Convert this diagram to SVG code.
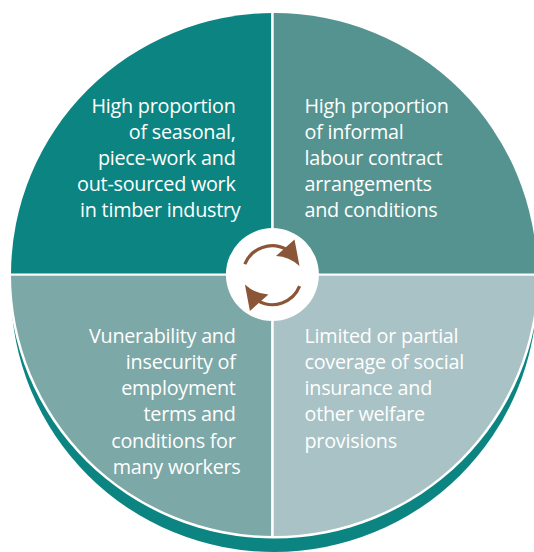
<svg xmlns="http://www.w3.org/2000/svg" width="534" height="552" viewBox="0 0 534 552">
  <style>
    .label { font-family: "Open Sans", "Noto Sans", "Liberation Sans", sans-serif; font-size: 19.8px; letter-spacing: -0.25px; fill: #ffffff; }
    .right { text-anchor: end; }
    .left { text-anchor: start; }
    .arrow-line { fill: none; stroke: #8B5638; stroke-width: 3.2; }
    .arrow-head { fill: #8B5638; }
  </style>
  <defs>
    <clipPath id="disc">
      <ellipse cx="274" cy="274.5" rx="263" ry="261.5"/>
    </clipPath>
    <g id="cycle-arrow">
      <path class="arrow-line" d="M244.8,264.2 A29.5,29.5 0 0 1 286.5,249.5"/>
      <path class="arrow-head" d="M276,256 L294.5,239.5 L299.5,266 Q289,256.5 276,256 Z"/>
    </g>
  </defs>

  <!-- base disc with offset shadow and white rim -->
  <ellipse cx="274" cy="290.5" rx="263" ry="261.5" fill="#0C8582"/>
  <ellipse cx="274" cy="274.5" rx="265.5" ry="264" fill="#ffffff"/>

  <g id="seasonal-work">
    <rect x="0" y="0" width="271.1" height="273.5" fill="#0C8582" clip-path="url(#disc)"/>
    <text class="label right">
      <tspan x="240.5" y="113.3">High proportion</tspan>
      <tspan x="240.5" y="139.2">of seasonal,</tspan>
      <tspan x="240.5" y="165">piece-work and</tspan>
      <tspan x="240.5" y="190.9">out-sourced work</tspan>
      <tspan x="240.5" y="216.7">in timber industry</tspan>
    </text>
  </g>

  <g id="informal-contracts">
    <rect x="273.7" y="0" width="262" height="273.5" fill="#54938F" clip-path="url(#disc)"/>
    <text class="label left">
      <tspan x="304.5" y="113.3">High proportion</tspan>
      <tspan x="304.5" y="139.2">of informal</tspan>
      <tspan x="304.5" y="165">labour contract</tspan>
      <tspan x="304.5" y="190.9">arrangements</tspan>
      <tspan x="304.5" y="216.7">and conditions</tspan>
    </text>
  </g>

  <g id="employment-insecurity">
    <rect x="0" y="275.7" width="271.1" height="277" fill="#7CA8A7" clip-path="url(#disc)"/>
    <text class="label right">
      <tspan x="240.5" y="342.5">Vunerability and</tspan>
      <tspan x="240.5" y="368.8">insecurity of</tspan>
      <tspan x="240.5" y="395">employment</tspan>
      <tspan x="240.5" y="421.3">terms and</tspan>
      <tspan x="240.5" y="447.6">conditions for</tspan>
      <tspan x="240.5" y="474">many workers</tspan>
    </text>
  </g>

  <g id="social-coverage">
    <rect x="273.7" y="275.7" width="262" height="277" fill="#A8C2C5" clip-path="url(#disc)"/>
    <text class="label left">
      <tspan x="304.5" y="342.5">Limited or partial</tspan>
      <tspan x="304.5" y="368.8">coverage of social</tspan>
      <tspan x="304.5" y="395">insurance and</tspan>
      <tspan x="304.5" y="421.3">other welfare</tspan>
      <tspan x="304.5" y="447.6">provisions</tspan>
    </text>
  </g>

  <!-- central hub with circular arrows -->
  <g id="connectors">
    <circle cx="272.4" cy="274.6" r="46.5" fill="#ffffff"/>
    <use href="#cycle-arrow"/>
    <use href="#cycle-arrow" transform="rotate(180 272.2 275.2)"/>
  </g>
</svg>
